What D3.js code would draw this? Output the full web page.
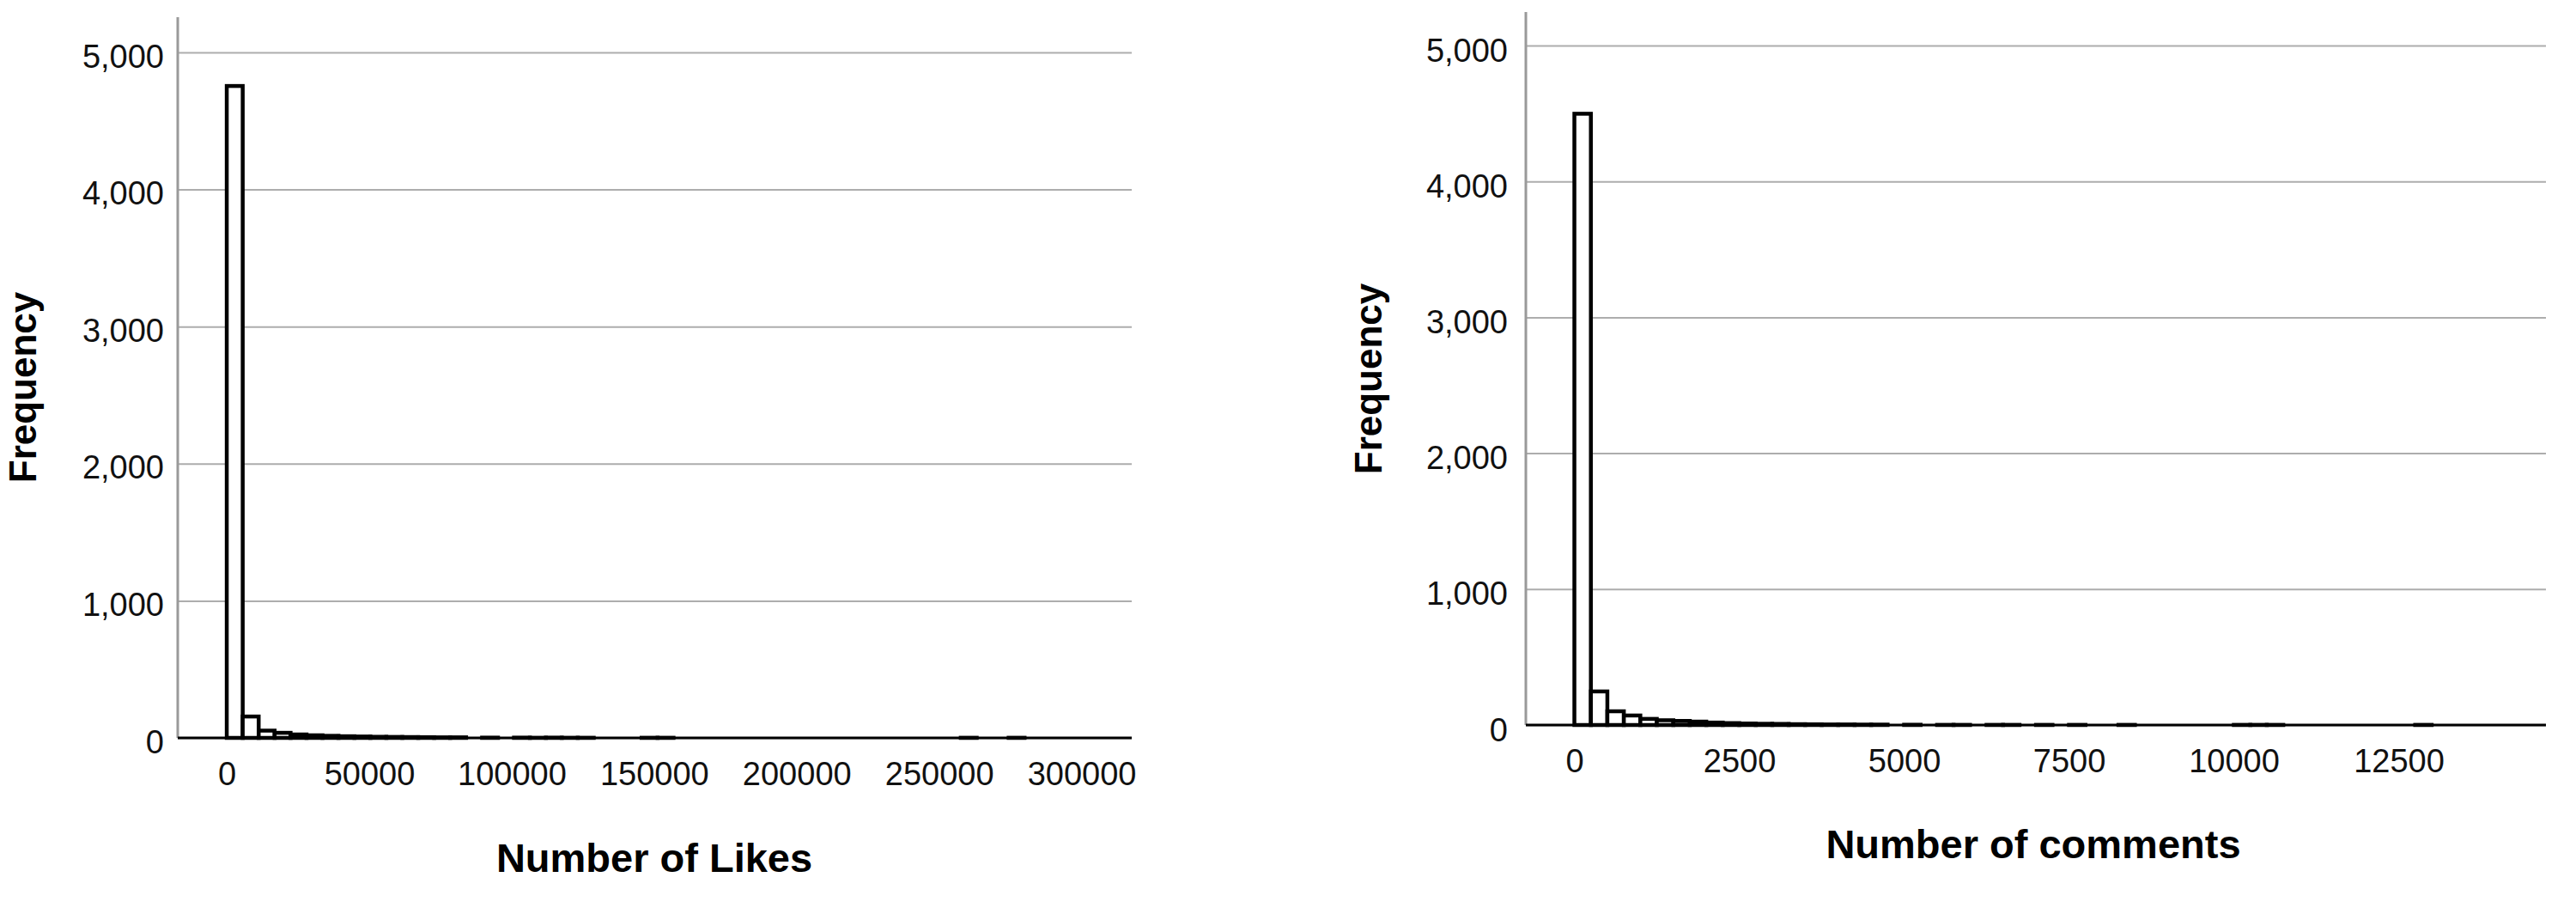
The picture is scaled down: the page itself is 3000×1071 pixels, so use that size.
<!DOCTYPE html>
<html>
  <head>
    <meta charset="utf-8">
    <title>Likes and comments histograms</title>
    <script src="https://cdn.jsdelivr.net/npm/d3@7/dist/d3.min.js"></script>
    <style>
      body { margin: 0; background: #fff; }
      svg { display: block; font-family: "Liberation Sans", Arial, sans-serif; }
      .tick text { font-size: 38px; fill: #111; }
      .title { font-size: 47px; font-weight: bold; fill: #000; }
    </style>
  </head>
  <body>
    <div id="chart"></div>
    <script>
      // counts per bin, bins start at 0
      var likesBinWidth = 5600;
      var likesCounts = [4755, 156, 53, 37, 25, 19, 15, 12, 10, 8, 7, 6, 5, 4, 4,
        0, 2, 0, 2, 1, 2, 1, 1, 0, 0, 0, 1, 1, 0, 0,
        0, 0, 0, 0, 0, 0, 0, 0, 0, 0, 0, 0, 0, 0, 0,
        0, 1, 0, 0, 1];
      var likesTicks = [0, 50000, 100000, 150000, 200000, 250000, 300000];

      var commentsBinWidth = 250;
      var commentsCounts = [4498, 247, 101, 70, 45, 35, 30, 25, 18, 14, 11, 9, 8, 6, 5, 4, 4, 3, 3,
        0, 2, 0, 1, 1, 0, 1, 1, 0, 1, 0, 1, 0, 0, 1,
        0, 0, 0, 0, 0, 0, 1, 1, 1, 0, 0, 0, 0, 0, 0, 0, 0, 1];
      var commentsTicks = [0, 2500, 5000, 7500, 10000, 12500];

      var freqTicks = [0, 1000, 2000, 3000, 4000, 5000];

      var width = 3000;
      var height = 1071;

      var svg = d3.select('#chart')
        .append('svg')
        .attr('width', width)
        .attr('height', height);

      var panels = [
        {
          counts: likesCounts, binWidth: likesBinWidth, ticks: likesTicks,
          xDomain: [-17200, 317600], xRange: [207, 1318],
          yRange: [859, 61], axisTop: 20, yPad: 16, labelShift: 5,
          xTitle: 'Number of Likes', xTitlePos: [762, 998], yTitlePos: [26, 451]
        },
        {
          counts: commentsCounts, binWidth: commentsBinWidth, ticks: commentsTicks,
          xDomain: [-736, 14733], xRange: [1777, 2965],
          yRange: [844, 53], axisTop: 14, yPad: 21, labelShift: 6,
          xTitle: 'Number of comments', xTitlePos: [2368, 982], yTitlePos: [1593, 441]
        }
      ];

      panels.forEach(function(p) {
        var x = d3.scaleLinear().domain(p.xDomain).range(p.xRange);
        var y = d3.scaleLinear().domain([0, 5000]).range(p.yRange);
        var g = svg.append('g');

        // gridlines + y labels
        var yAxis = g.append('g')
          .attr('transform', 'translate(' + p.xRange[0] + ',0)')
          .call(d3.axisLeft(y)
            .tickValues(freqTicks)
            .tickSize(-(p.xRange[1] - p.xRange[0]))
            .tickPadding(p.yPad)
            .tickFormat(d3.format(',')));
        yAxis.select('.domain').remove();
        yAxis.selectAll('.tick line')
          .attr('stroke', '#adadad')
          .attr('stroke-width', 2);
        yAxis.selectAll('.tick text')
          .attr('transform', 'translate(0,' + p.labelShift + ')');

        // vertical axis line (grey)
        g.append('line')
          .attr('x1', p.xRange[0]).attr('x2', p.xRange[0])
          .attr('y1', p.yRange[0]).attr('y2', p.axisTop)
          .attr('stroke', '#9a9a9a')
          .attr('stroke-width', 3);

        // bars
        var bins = p.counts.map(function(c, i) {
          return { x0: i * p.binWidth, x1: (i + 1) * p.binWidth, count: c };
        }).filter(function(d) { return d.count > 0; });

        g.selectAll('rect.bar')
          .data(bins)
          .enter().append('rect')
          .attr('class', 'bar')
          .attr('x', function(d) { return x(d.x0); })
          .attr('width', function(d) { return x(d.x1) - x(d.x0); })
          .attr('y', function(d) { return y(d.count); })
          .attr('height', function(d) { return y(0) - y(d.count); })
          .attr('fill', '#fff')
          .attr('stroke', '#000')
          .attr('stroke-width', 4.5);

        // x axis
        var xAxis = g.append('g')
          .attr('transform', 'translate(0,' + y(0) + ')')
          .call(d3.axisBottom(x)
            .tickValues(p.ticks)
            .tickSize(0)
            .tickPadding(28)
            .tickFormat(d3.format('d')));
        xAxis.select('.domain').remove();

        g.append('line')
          .attr('x1', p.xRange[0]).attr('x2', p.xRange[1])
          .attr('y1', y(0)).attr('y2', y(0))
          .attr('stroke', '#000')
          .attr('stroke-width', 3);

        // titles
        g.append('text')
          .attr('class', 'title')
          .attr('text-anchor', 'middle')
          .attr('dominant-baseline', 'central')
          .attr('x', p.xTitlePos[0])
          .attr('y', p.xTitlePos[1])
          .text(p.xTitle);

        g.append('text')
          .attr('class', 'title')
          .attr('text-anchor', 'middle')
          .attr('dominant-baseline', 'central')
          .attr('transform', 'translate(' + p.yTitlePos[0] + ',' + p.yTitlePos[1] + ') rotate(-90)')
          .style('font-size', '44px')
          .text('Frequency');
      });
    </script>
  </body>
</html>
